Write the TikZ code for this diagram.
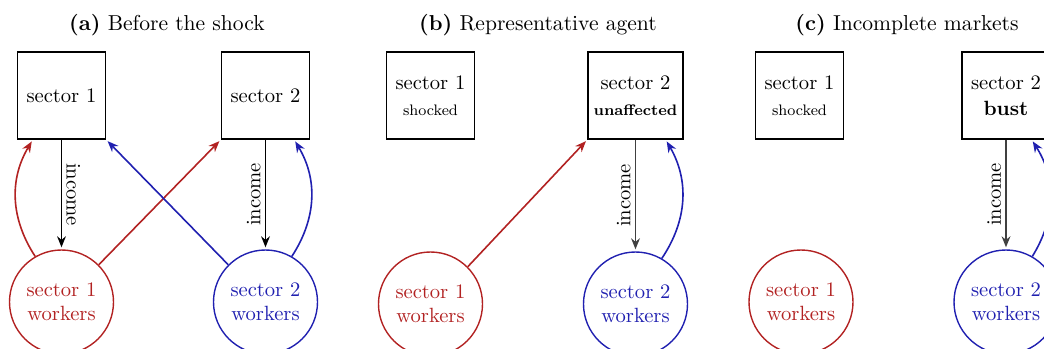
\documentclass[tikz,border=0pt]{standalone}
\usetikzlibrary{arrows.meta,calc}
\definecolor{wred}{RGB}{178,34,34}
\definecolor{wblue}{RGB}{32,32,176}
\begin{document}
\begin{tikzpicture}[x=0.5pt,y=-0.5pt,
  every node/.style={font=\fontsize{10.3}{12}\selectfont},
  sector/.style={draw,line width=0.7pt,minimum width=44pt,minimum height=43.5pt,align=center,inner sep=1pt},
  workers/.style={draw,circle,line width=0.7pt,minimum size=52pt,align=center,inner sep=0pt},
  redw/.style={workers,draw=wred,text=wred},
  bluew/.style={workers,draw=wblue,text=wblue},
  flow/.style={line width=0.8pt,-{Stealth[length=5.5pt,width=4.4pt]},shorten >=1pt},
  income/.style={flow,black},
  incomeg/.style={flow,black!75},
  lbl/.style={font=\fontsize{10.3}{12}\selectfont,inner sep=2pt,text=black},
  title/.style={font=\fontsize{10.8}{13}\selectfont},
  bendl/.style={bend left=32},
  bendr/.style={bend right=32}]
\clip (0,0) rectangle (1044,348);

% ---------- (a) Before the shock ----------
\node[title] (ta) at (167,25) {\textbf{(a)} Before the shock};
\node[sector] (a1) at (61.5,95.5) {sector 1};
\node[sector] (a2) at (265.5,95.5) {sector 2};
\node[redw]  (aw1) at (61.5,302) {sector 1\\workers};
\node[bluew] (aw2) at (265.5,302) {sector 2\\workers};
\draw[income] (a1.south) -- node[midway,lbl,rotate=-90,anchor=south] {income} (aw1.north);
\draw[income] (a2.south) -- node[midway,lbl,rotate=90,anchor=south] {income} (aw2.north);
\draw[flow,wred] (aw1.120) to[bendl] ([xshift=8pt]a1.south west);
\draw[flow,wred] (aw1.45) -- (a2.south west);
\draw[flow,wblue] (aw2.135) -- (a1.south east);
\draw[flow,wblue] (aw2.60) to[bendr] ([xshift=-8pt]a2.south east);

% ---------- (b) Representative agent ----------
\node[title] (tb) at (538,25) {\textbf{(b)} Representative agent};
\node[sector] (b1) at (430.5,95.5) {sector 1\\[1pt]{\fontsize{7.6}{9}\selectfont shocked}};
\node[sector,minimum width=47.5pt] (b2) at (635.5,95.5) {sector 2\\[1pt]{\fontsize{7.6}{9}\selectfont\bfseries unaffected}};
\node[redw]  (bw1) at (430.5,304) {sector 1\\workers};
\node[bluew] (bw2) at (635.5,304) {sector 2\\workers};
\draw[incomeg] (b2.south) -- node[midway,lbl,rotate=90,anchor=south] {income} (bw2.north);
\draw[flow,wred] (bw1.45) -- (b2.south west);
\draw[flow,wblue] (bw2.60) to[bendr] ([xshift=-9pt]b2.south east);

% ---------- (c) Incomplete markets ----------
\node[title] (tc) at (907,25) {\textbf{(c)} Incomplete markets};
\node[sector] (c1) at (799.5,95.5) {sector 1\\[1pt]{\fontsize{7.6}{9}\selectfont shocked}};
\node[sector] (c2) at (1006,95.5) {sector 2\\[1pt]\textbf{bust}};
\node[redw]  (cw1) at (801,302) {sector 1\\workers};
\node[bluew] (cw2) at (1006,302) {sector 2\\workers};
\draw[incomeg] (c2.south) -- node[midway,lbl,rotate=90,anchor=south] {income} (cw2.north);
\draw[flow,wblue] (cw2.60) to[bendr] ([xshift=-9.5pt]c2.south east);
\end{tikzpicture}
\end{document}
